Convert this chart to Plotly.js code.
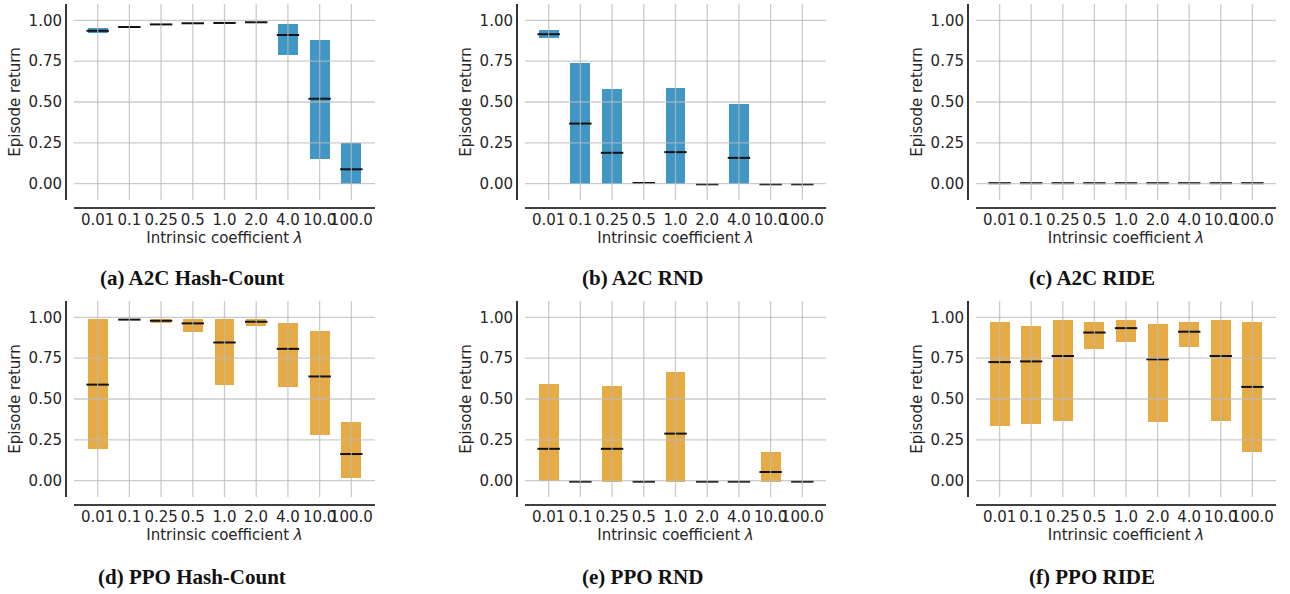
<!DOCTYPE html>
<html>
<head>
<meta charset="utf-8">
<script src="https://cdn.plot.ly/plotly-3.0.1.min.js"></script>
<style>
  html, body { margin: 0; padding: 0; background: #ffffff; }
  #chart { width: 1290px; height: 594px; }
</style>
</head>
<body>
<div id="chart"></div>
<script>
// ---------------- data ----------------
const categories = ['0.01', '0.1', '0.25', '0.5', '1.0', '2.0', '4.0', '10.0', '100.0'];
const yTickValues = [0, 0.25, 0.5, 0.75, 1.0];
const yTickLabels = ['0.00', '0.25', '0.50', '0.75', '1.00'];

const panelTitles = ['(a) A2C Hash-Count', '(b) A2C RND', '(c) A2C RIDE',
                     '(d) PPO Hash-Count', '(e) PPO RND', '(f) PPO RIDE'];

// (a) A2C Hash-Count
const a2cHashLow  = [0.920, 0.955, 0.969, 0.977, 0.979, 0.984, 0.789, 0.154, -0.004];
const a2cHashHigh = [0.953, 0.962, 0.979, 0.986, 0.992, 0.992, 0.979, 0.881, 0.248];
const a2cHashMed  = [0.936, 0.959, 0.975, 0.982, 0.984, 0.988, 0.910, 0.520, 0.088];
// (b) A2C RND
const a2cRndLow  = [0.889, -0.004, -0.004, -0.002, -0.004, -0.006, -0.004, -0.006, -0.006];
const a2cRndHigh = [0.942, 0.739, 0.579, 0.008, 0.585, -0.002, 0.487, -0.002, -0.002];
const a2cRndMed  = [0.915, 0.368, 0.189, 0.004, 0.193, -0.004, 0.158, -0.004, -0.004];
// (c) A2C RIDE
const a2cRideLow  = [-0.004, -0.004, -0.004, -0.004, -0.004, -0.004, -0.004, -0.004, -0.004];
const a2cRideHigh = [0.002, 0.002, 0.002, 0.002, 0.002, 0.002, 0.002, 0.002, 0.002];
const a2cRideMed  = [0.003, 0.003, 0.003, 0.003, 0.003, 0.003, 0.003, 0.003, 0.003];
// (d) PPO Hash-Count
const ppoHashLow  = [0.193, 0.984, 0.967, 0.911, 0.588, 0.949, 0.576, 0.280, 0.014];
const ppoHashHigh = [0.990, 0.992, 0.988, 0.988, 0.988, 0.988, 0.965, 0.916, 0.360];
const ppoHashMed  = [0.588, 0.986, 0.979, 0.963, 0.846, 0.973, 0.807, 0.638, 0.163];
// (e) PPO RND
const ppoRndLow  = [-0.002, -0.008, -0.006, -0.008, -0.006, -0.008, -0.008, -0.006, -0.008];
const ppoRndHigh = [0.593, -0.004, 0.580, -0.004, 0.667, -0.004, -0.004, 0.175, -0.004];
const ppoRndMed  = [0.195, -0.006, 0.195, -0.006, 0.288, -0.006, -0.006, 0.053, -0.006];
// (f) PPO RIDE
const ppoRideLow  = [0.337, 0.348, 0.366, 0.807, 0.848, 0.360, 0.817, 0.366, 0.175];
const ppoRideHigh = [0.971, 0.946, 0.984, 0.971, 0.984, 0.959, 0.971, 0.984, 0.971];
const ppoRideMed  = [0.726, 0.730, 0.763, 0.907, 0.934, 0.743, 0.912, 0.763, 0.574];

// ---------------- styling / layout ----------------
const BLUE = '#4096c5';
const ORANGE = '#e6ab44';
const W = 1290, H = 594;

const panels = [
  {low: a2cHashLow, high: a2cHashHigh, med: a2cHashMed, color: BLUE},
  {low: a2cRndLow,  high: a2cRndHigh,  med: a2cRndMed,  color: BLUE},
  {low: a2cRideLow, high: a2cRideHigh, med: a2cRideMed, color: BLUE},
  {low: ppoHashLow, high: ppoHashHigh, med: ppoHashMed, color: ORANGE},
  {low: ppoRndLow,  high: ppoRndHigh,  med: ppoRndMed,  color: ORANGE},
  {low: ppoRideLow, high: ppoRideHigh, med: ppoRideMed, color: ORANGE}
];

// plot areas in pixels [left, right], [top, bottom]
const colPx = [[74, 375], [525, 826], [976, 1276]];
const rowPx = [[4, 200], [301, 497]];
const captionPos = [[192, 278], [642, 278], [1092, 278], [192, 577], [642, 577], [1092, 577]];

const BAR_WIDTH = 0.63;
const X_RANGE = [-0.7465, 8.7465];
const Y_RANGE = [-0.1, 1.1];
const TICK_FONT = {family: 'DejaVu Sans', size: 15, color: '#262626'};
const GRID_COLOR = 'rgba(185,185,185,0.75)';

const data = [];
const shapes = [];
const annotations = [];
const layout = {
  width: W, height: H,
  margin: {l: 0, r: 0, t: 0, b: 0},
  paper_bgcolor: '#ffffff',
  plot_bgcolor: '#ffffff',
  showlegend: false,
  font: {family: 'DejaVu Sans', color: '#262626'},
  bargap: 0
};

panels.forEach((p, i) => {
  const n = i + 1;
  const sfx = n === 1 ? '' : String(n);
  const xa = 'x' + sfx, ya = 'y' + sfx;
  const col = colPx[i % 3], row = rowPx[Math.floor(i / 3)];
  const plotW = col[1] - col[0], plotH = row[1] - row[0];

  data.push({
    type: 'bar',
    x: categories,
    base: p.low,
    y: p.high.map((h, k) => h - p.low[k]),
    width: BAR_WIDTH,
    marker: {color: p.color, line: {width: 0}},
    xaxis: xa, yaxis: ya,
    hoverinfo: 'skip'
  });
  data.push({
    type: 'scatter',
    mode: 'markers',
    x: categories,
    y: p.med,
    marker: {symbol: 'line-ew', size: 16, color: '#111111',
             line: {width: 2, color: '#111111'}},
    xaxis: xa, yaxis: ya,
    hoverinfo: 'skip',
    cliponaxis: false
  });

  layout['xaxis' + sfx] = {
    domain: [col[0] / W, col[1] / W],
    anchor: ya,
    type: 'category',
    range: X_RANGE,
    tickmode: 'array',
    tickvals: categories,
    ticktext: categories,
    tickangle: 0,
    ticks: '',
    showgrid: false,
    zeroline: false,
    showline: false,
    tickfont: TICK_FONT,
    ticklabelstandoff: 9,
    title: {text: 'Intrinsic coefficient <i>λ</i>', font: TICK_FONT, standoff: 0},
    fixedrange: true
  };
  layout['yaxis' + sfx] = {
    domain: [1 - row[1] / H, 1 - row[0] / H],
    anchor: xa,
    range: Y_RANGE,
    tickmode: 'array',
    tickvals: yTickValues,
    ticktext: yTickLabels,
    ticks: '',
    showgrid: false,
    zeroline: false,
    showline: false,
    tickfont: TICK_FONT,
    ticklabelstandoff: 11,
    title: {text: 'Episode return', font: TICK_FONT, standoff: 4},
    fixedrange: true
  };

  // gridlines drawn over the bars (as in the reference); x positions are category indices
  categories.forEach((c, k) => {
    shapes.push({type: 'line', layer: 'above', xref: xa, yref: ya + ' domain',
                 x0: k, x1: k, y0: 0, y1: 1,
                 line: {color: GRID_COLOR, width: 1.3}});
  });
  yTickValues.forEach(v => {
    shapes.push({type: 'line', layer: 'above', xref: xa + ' domain', yref: ya,
                 x0: 0, x1: 1, y0: v, y1: v,
                 line: {color: GRID_COLOR, width: 1.3}});
  });
  // offset spines
  shapes.push({type: 'line', layer: 'above', xref: xa + ' domain', yref: ya + ' domain',
               x0: -8 / plotW, x1: -8 / plotW, y0: 0, y1: 1,
               line: {color: '#000000', width: 1.6}});
  shapes.push({type: 'line', layer: 'above', xref: xa + ' domain', yref: ya + ' domain',
               x0: 0, x1: 1, y0: -8 / plotH, y1: -8 / plotH,
               line: {color: '#000000', width: 1.6}});

  annotations.push({
    xref: 'paper', yref: 'paper',
    x: captionPos[i][0] / W, y: 1 - captionPos[i][1] / H,
    xanchor: 'center', yanchor: 'middle',
    text: '<b>' + panelTitles[i] + '</b>',
    showarrow: false,
    font: {family: 'Liberation Serif', size: 21, color: '#111111'}
  });
});

layout.shapes = shapes;
layout.annotations = annotations;

Plotly.newPlot('chart', data, layout, {staticPlot: true, displayModeBar: false});
</script>
</body>
</html>
